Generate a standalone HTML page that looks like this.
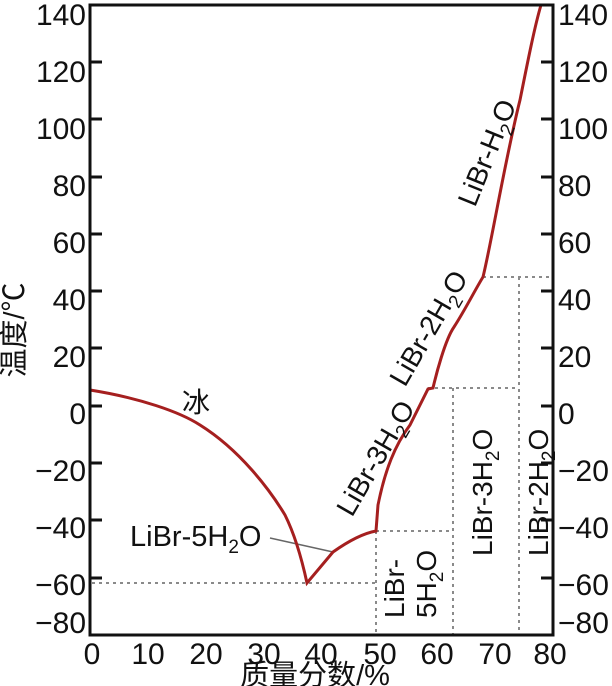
<!DOCTYPE html>
<html><head><meta charset="utf-8"><style>
html,body{margin:0;padding:0;background:#fff;}
svg{display:block;font-family:"Liberation Sans","Noto Sans CJK SC",sans-serif;}
</style></head><body>
<svg width="612" height="686" viewBox="0 0 612 686">
<g stroke="#8a8a8a" stroke-width="2" stroke-dasharray="3,4" fill="none">
<line x1="92" y1="583" x2="376" y2="583"/>
<line x1="376" y1="531" x2="453" y2="531"/>
<line x1="428" y1="388" x2="519" y2="388"/>
<line x1="483" y1="277" x2="553" y2="277"/>
<line x1="376" y1="531" x2="376" y2="635"/>
<line x1="453" y1="388" x2="453" y2="635"/>
<line x1="519" y1="277" x2="519" y2="635"/>
</g>
<line x1="270" y1="538" x2="333" y2="552" stroke="#666" stroke-width="1.5"/>
<path d="M90,390 C140,398 180,412 200,425 C240,450 270,490 285,515 C295,535 302,560 307,583 L333,552 C350,540 365,533 376,531 L378,505 C385,470 395,445 410,425 L428,389 L433,388 C436,375 445,340 454,327 C465,310 475,290 483,277 C492,240 505,160 520,100 C528,60 535,25 541,5" fill="none" stroke="#a51f1f" stroke-width="3"/>
<rect x="90" y="5" width="463" height="630" fill="none" stroke="#111" stroke-width="3"/>
<g stroke="#111" stroke-width="3">
<line x1="90" y1="62" x2="102" y2="62"/><line x1="90" y1="119" x2="102" y2="119"/><line x1="90" y1="177" x2="102" y2="177"/><line x1="90" y1="234" x2="102" y2="234"/><line x1="90" y1="291" x2="102" y2="291"/><line x1="90" y1="348" x2="102" y2="348"/><line x1="90" y1="406" x2="102" y2="406"/><line x1="90" y1="463" x2="102" y2="463"/><line x1="90" y1="520" x2="102" y2="520"/><line x1="90" y1="578" x2="102" y2="578"/>
<line x1="541" y1="62" x2="553" y2="62"/><line x1="541" y1="119" x2="553" y2="119"/><line x1="541" y1="177" x2="553" y2="177"/><line x1="541" y1="234" x2="553" y2="234"/><line x1="541" y1="291" x2="553" y2="291"/><line x1="541" y1="348" x2="553" y2="348"/><line x1="541" y1="406" x2="553" y2="406"/><line x1="541" y1="463" x2="553" y2="463"/><line x1="541" y1="520" x2="553" y2="520"/><line x1="541" y1="578" x2="553" y2="578"/>
</g>
<g font-size="30" fill="#111" text-anchor="end">
<text x="86" y="25">140</text><text x="86" y="82">120</text><text x="86" y="139">100</text><text x="86" y="196">80</text><text x="86" y="253">60</text><text x="86" y="310">40</text><text x="86" y="367">20</text><text x="86" y="424">0</text><text x="86" y="481">−20</text><text x="86" y="538">−40</text><text x="86" y="595">−60</text><text x="86" y="633">−80</text>
</g>
<g font-size="30" fill="#111" text-anchor="start">
<text x="558" y="25">140</text><text x="558" y="82">120</text><text x="558" y="139">100</text><text x="558" y="196">80</text><text x="558" y="253">60</text><text x="558" y="310">40</text><text x="558" y="367">20</text><text x="558" y="424">0</text><text x="558" y="481">−20</text><text x="558" y="538">−40</text><text x="558" y="595">−60</text><text x="558" y="633">−80</text>
</g>
<g font-size="30" fill="#111" text-anchor="middle">
<text x="92" y="664">0</text><text x="148" y="664">10</text><text x="206" y="664">20</text><text x="264" y="664">30</text><text x="321" y="664">40</text><text x="380" y="664">50</text><text x="437" y="664">60</text><text x="495" y="664">70</text><text x="550" y="664">80</text>
<text x="315" y="685" font-size="29">质量分数/%</text>
</g>
<text transform="translate(24,330) rotate(-90)" font-size="29" text-anchor="middle" fill="#111">温度/℃</text>
<text x="182" y="412" font-size="28" fill="#111">冰</text>
<text x="130" y="546" font-size="29" fill="#111">LiBr-5H<tspan font-size="19" dy="7">2</tspan><tspan dy="-7">O</tspan></text>
<text transform="translate(352,518) rotate(-60)" font-size="28" fill="#111">LiBr-3H<tspan font-size="19" dy="7">2</tspan><tspan dy="-7">O</tspan></text>
<text transform="translate(405,388) rotate(-60)" font-size="28" fill="#111">LiBr-2H<tspan font-size="19" dy="7">2</tspan><tspan dy="-7">O</tspan></text>
<text transform="translate(475,208) rotate(-68)" font-size="28" fill="#111">LiBr-H<tspan font-size="19" dy="7">2</tspan><tspan dy="-7">O</tspan></text>
<text transform="translate(404,618) rotate(-90)" font-size="28" fill="#111">LiBr-</text>
<text transform="translate(436,618) rotate(-90)" font-size="28" fill="#111">5H<tspan font-size="19" dy="7">2</tspan><tspan dy="-7">O</tspan></text>
<text transform="translate(492,556) rotate(-90)" font-size="28" fill="#111">LiBr-3H<tspan font-size="19" dy="7">2</tspan><tspan dy="-7">O</tspan></text>
<text transform="translate(548,556) rotate(-90)" font-size="28" fill="#111">LiBr-2H<tspan font-size="19" dy="7">2</tspan><tspan dy="-7">O</tspan></text>
</svg>
</body></html>
